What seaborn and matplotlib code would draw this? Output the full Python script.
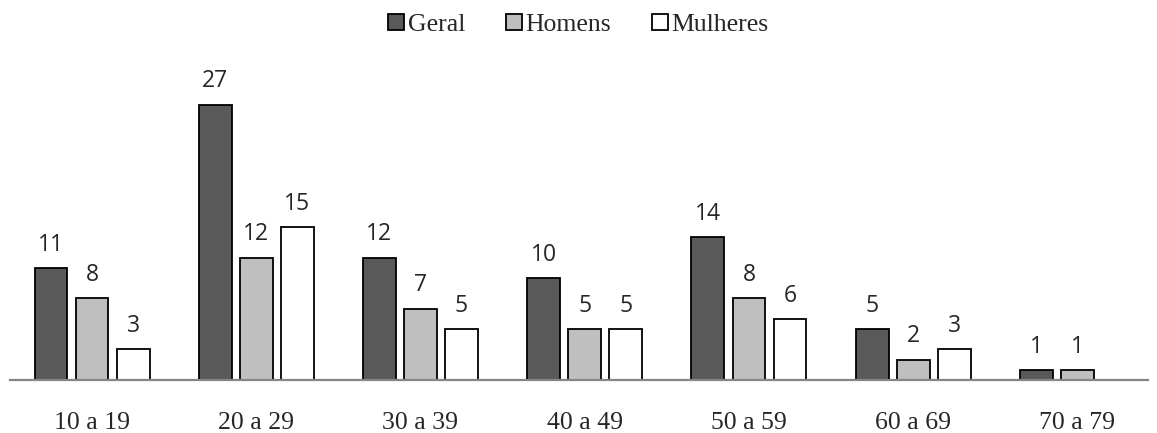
import pandas as pd
import numpy as np
import matplotlib
matplotlib.use('Agg')
import matplotlib.pyplot as plt
import seaborn as sns

faixas = ['10 a 19', '20 a 29', '30 a 39', '40 a 49', '50 a 59', '60 a 69', '70 a 79']
geral = [11, 27, 12, 10, 14, 5, 1]
homens = [8, 12, 7, 5, 8, 2, 1]
mulheres = [3, 15, 5, 5, 6, 3, 0]
series = ['Geral', 'Homens', 'Mulheres']
cores = ['#595959', '#bfbfbf', '#ffffff']

df = pd.DataFrame({
    'faixa': faixas * 3,
    'grupo': ['Geral'] * 7 + ['Homens'] * 7 + ['Mulheres'] * 7,
    'valor': geral + homens + mulheres,
})

sns.set_style('white')
fig = plt.figure(figsize=(11.57, 4.33), dpi=100)
ax = fig.add_axes([0.0086, 0.1224, 0.9836, 0.7067])

sns.barplot(data=df, x='faixa', y='valor', hue='grupo', hue_order=series,
            palette=cores, width=0.75, gap=0.2, edgecolor='black',
            linewidth=1.3, saturation=1, ax=ax)

# rotulos de dados (sem rotulo para valor zero)
for cont in ax.containers:
    for bar in cont:
        h = bar.get_height()
        if h > 0:
            ax.annotate(f'{int(h)}', (bar.get_x() + bar.get_width() / 2, h),
                        xytext=(0, 8), textcoords='offset points',
                        ha='center', va='bottom', fontsize=16.5,
                        family='Open Sans')

ax.set_ylim(0, 30)
ax.set_xlim(-0.5, 6.43)
ax.set_xlabel('')
ax.set_ylabel('')
ax.set_yticks([])
for s in ['top', 'right', 'left']:
    ax.spines[s].set_visible(False)
ax.spines['bottom'].set_color('#868686')
ax.spines['bottom'].set_linewidth(1.6)
ax.tick_params(axis='x', length=0, pad=23)
for lbl in ax.get_xticklabels():
    lbl.set_family('Liberation Serif')
    lbl.set_fontsize(18.5)

handles, labels = ax.get_legend_handles_labels()
ax.legend(handles, labels, loc='center', bbox_to_anchor=(0.5, 0.9423),
          bbox_transform=fig.transFigure, ncol=3, frameon=False,
          prop={'family': 'Liberation Serif', 'size': 18.5},
          handlelength=0.6, handleheight=0.6, handletextpad=0.15,
          columnspacing=1.6)

fig.savefig('out.png', dpi=100)
